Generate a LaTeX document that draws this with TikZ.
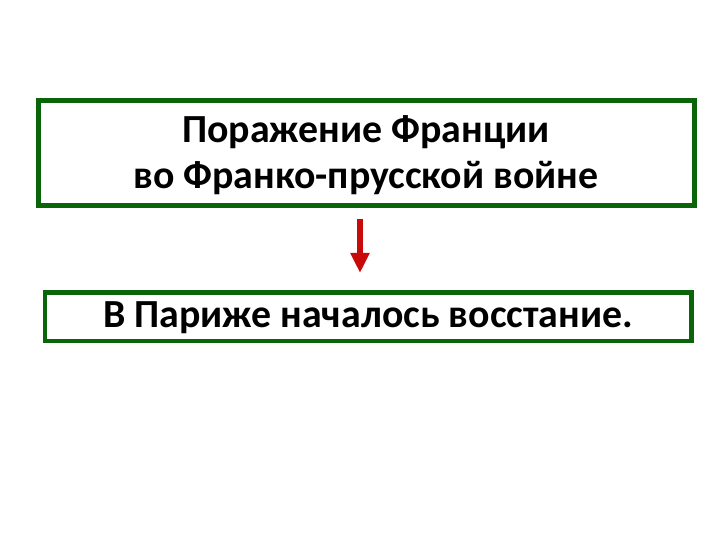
\documentclass[tikz,border=0pt]{standalone}
\usepackage{fontspec}
\setmainfont{Carlito}
\usetikzlibrary{arrows.meta}
\definecolor{boxgreen}{RGB}{10,100,10}
\definecolor{arrowred}{RGB}{200,10,10}
\tikzset{
  greenbox/.style={draw=boxgreen, line width=5bp, fill=white},
  boxtext/.style={font=\fontsize{40}{46}\selectfont\bfseries, align=center, text=black, inner sep=0pt},
}
\begin{document}
\begin{tikzpicture}[x=1bp,y=-1bp]
\useasboundingbox (0,0) rectangle (720,540);
\fill[white] (0,0) rectangle (720,540);
\draw[greenbox] (38.5,101) rectangle (694,206);
\node[boxtext] (t1) at (366,155) {Поражение Франции\\во Франко-прусской войне};
\draw[greenbox, line width=4.5bp] (45,292.5) rectangle (691.5,341);
\node[boxtext] (t2) at (368,318) {В Париже началось восстание.};
\coordinate (a1) at (360,219);
\coordinate (a2) at (360,273);
\draw[arrowred, line width=6bp, -{Triangle[width=18bp,length=20bp]}] (a1) -- (a2);
\end{tikzpicture}
\end{document}
